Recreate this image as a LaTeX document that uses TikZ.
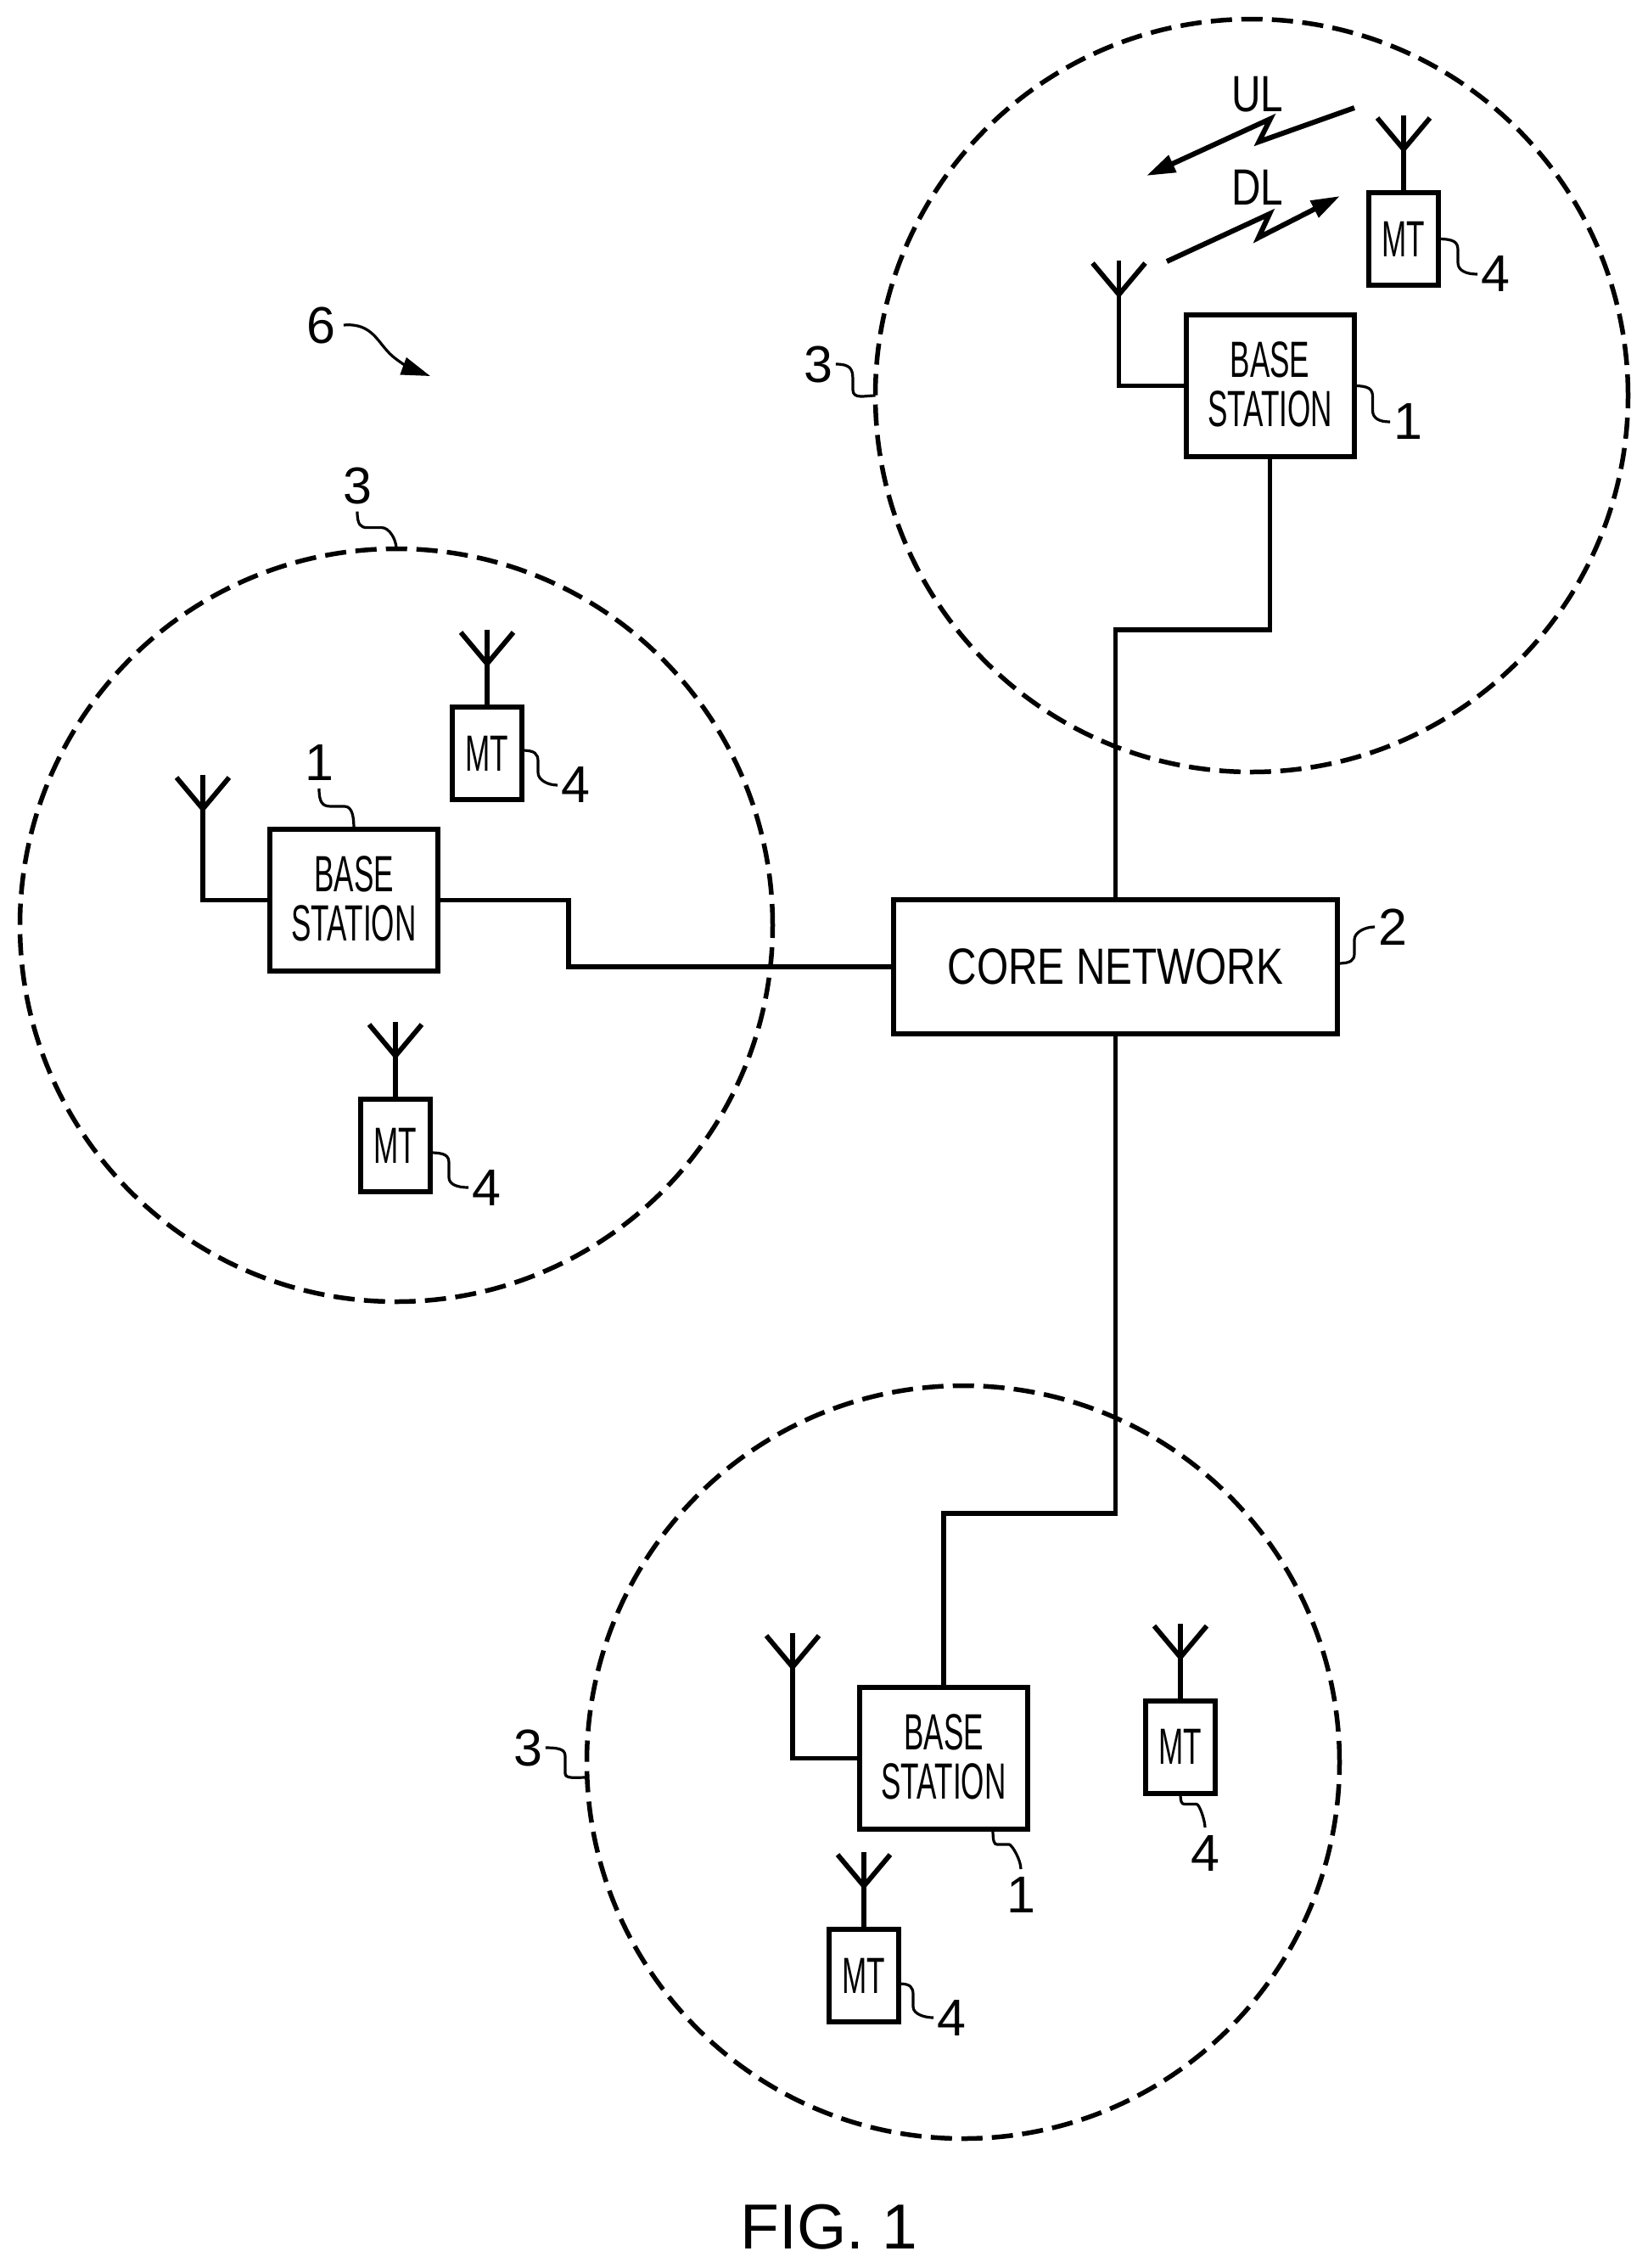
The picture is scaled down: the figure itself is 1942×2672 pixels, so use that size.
\documentclass[tikz,border=0pt]{standalone}
\usepackage{fontspec}
\setmainfont{Liberation Sans}
\newfontfamily\nara[FakeStretch=0.585]{Liberation Sans}
\newfontfamily\narb[FakeStretch=0.796]{Liberation Sans}
\usetikzlibrary{arrows.meta}
\tikzset{
  box/.style={draw=black,line width=6pt,inner sep=0pt,outer sep=0pt,align=center},
  bsbox/.style={box,minimum width=198pt,minimum height=167pt,text depth=3pt,font=\nara\fontsize{60}{58}\selectfont},
  mtbox/.style={box,minimum width=82pt,minimum height=109pt,font=\nara\fontsize{60}{60}\selectfont},
  corebox/.style={box,minimum width=523pt,minimum height=158pt,font=\narb\fontsize{60}{60}\selectfont},
  cell/.style={circle,draw=black,line width=5.5pt,dash pattern=on 25pt off 11pt,minimum size=887pt,inner sep=0pt,outer sep=0pt},
  wire/.style={line width=5.8pt,draw=black,miter limit=10},
  lead/.style={line width=3.2pt,draw=black},
  lab/.style={inner xsep=4pt,inner ysep=9pt,outer sep=0pt,font=\fontsize{61}{61}\selectfont},
  linklab/.style={inner sep=0pt,font=\narb\fontsize{60}{60}\selectfont},
  figlab/.style={inner sep=0pt,font=\fontsize{75}{75}\selectfont},
  radio/.style={line width=6pt,draw=black,miter limit=12,-{Triangle[length=34pt,width=21pt]}}
}
\newcommand\hsq[5]{\draw[lead] #1 .. controls +({.8*#2},0) and +(0,{-.7*#3}) .. ++(#2,#3) -- ++(0,#4) .. controls +(0,{.7*#3}) and +({-.6*#2},0) .. #5;}
\newcommand\vsq[5]{\draw[lead] #1 .. controls +(0,{.8*#3}) and +({-.7*#2},0) .. ++(#2,#3) -- ++(#4,0) .. controls +({.7*#2},0) and +(0,{-.6*#3}) .. #5;}
\newcommand\mtant[1]{%
  \draw[wire] (#1.north) -- ++(0,-91);
  \path (#1.north) ++(0,-51) coordinate (#1v);
  \draw[wire] ([shift={(-31,-37)}]#1v) -- (#1v) -- ([shift={(31,-37)}]#1v);}
\newcommand\bsant[1]{%
  \draw[wire] (#1.west) -- ++(-79,0) -- ++(0,-147.5);
  \path (#1.west) ++(-79,-107.5) coordinate (#1v);
  \draw[wire] ([shift={(-31,-37)}]#1v) -- (#1v) -- ([shift={(31,-37)}]#1v);}
\begin{document}
\begin{tikzpicture}[x=1pt,y=-1pt]
\fill[white] (0,0) rectangle (1942,2672);
\useasboundingbox (0,0) rectangle (1942,2672);
% cells
\node[cell] (c1) at (1475,466) {};
\node[cell] (c2) at (467,1090) {};
\node[cell] (c3) at (1135,2076) {};
% boxes
\node[corebox] (core) at (1314.5,1139) {CORE NETWORK};
\node[bsbox] (bs1) at (1496.5,454.5) {BASE\\STATION};
\node[bsbox] (bs2) at (417,1060.5) {BASE\\STATION};
\node[bsbox] (bs3) at (1112,2071.5) {BASE\\STATION};
\node[mtbox] (mt1) at (1654,281.5) {MT};
\node[mtbox] (mt2) at (574,887.5) {MT};
\node[mtbox] (mt3) at (466,1349.5) {MT};
\node[mtbox] (mt4) at (1391,2058) {MT};
\node[mtbox] (mt5) at (1018,2327.5) {MT};
% antennas
\mtant{mt1}\mtant{mt2}\mtant{mt3}\mtant{mt4}\mtant{mt5}
\bsant{bs1}\bsant{bs2}\bsant{bs3}
% backhaul
\coordinate (j1) at (1314.5,742);
\coordinate (j2) at (670,1139);
\coordinate (j3) at (1314.5,1783);
\draw[wire] (bs1.south) |- (j1) -- (core.north);
\draw[wire] (bs2.east) -| (j2) -- (core.west);
\draw[wire] (core.south) -- (j3) -| (bs3.north);
% reference numerals
\node[lab] (l1a) at (1659,497) {1};
\node[lab] (l1b) at (376,899) {1};
\node[lab] (l1c) at (1203,2232) {1};
\node[lab] (l2) at (1641,1092) {2};
\node[lab] (l3a) at (964,429) {3};
\node[lab] (l3b) at (421,572) {3};
\node[lab] (l3c) at (622,2059) {3};
\node[lab] (l4a) at (1762,323) {4};
\node[lab] (l4b) at (678,925) {4};
\node[lab] (l4c) at (573,1399) {4};
\node[lab] (l4d) at (1420,2183) {4};
\node[lab] (l4e) at (1121,2377) {4};
\node[lab] (l6) at (378,383) {6};
% leaders
\hsq{(bs1.east)}{22}{13}{16}{(l1a.west)}
\hsq{(mt1.east)}{23}{13}{15}{(l4a.west)}
\hsq{([yshift=3.5pt]mt2.east)}{19}{13}{13}{(l4b.west)}
\hsq{([yshift=-8.5pt]mt3.east)}{22}{12}{17}{(l4c.west)}
\hsq{([yshift=-9.5pt]mt5.east)}{17}{13}{14}{(l4e.west)}
\hsq{([yshift=4pt]core.east)}{20}{-12}{-16}{(l2.west)}
\hsq{(l3a.east)}{20}{17}{13}{(c1.west)}
\hsq{(l3c.east)}{23}{10}{20}{([yshift=-18pt]c3.west)}
\vsq{([xshift=58pt]bs3.south)}{5}{18}{14}{(l1c.north)}
\vsq{(mt4.south)}{5}{13}{14}{(l4d.north)}
\vsq{(l3b.south)}{12}{19}{17}{(c2.north)}
\vsq{(l1b.south)}{14}{21}{16}{(bs2.north)}
% system arrow
\coordinate (t6) at (507,443);
\draw[lead,-{Triangle[length=34pt,width=21pt]}] ([xshift=6pt]l6.east) .. controls (440,380) and (445,405) .. (463,420) .. controls (475,430) and (488,436) .. (t6);
% radio links
\coordinate (uls) at (1596,127);
\coordinate (ult) at (1351,207);
\coordinate (dls) at (1375,308);
\coordinate (dlt) at (1579,231);
\draw[radio] (uls) -- (1483.5,167) -- (1497,140) -- (ult);
\draw[radio] (dls) -- (1496,252) -- (1483,280) -- (dlt);
\node[linklab] (ul) at (1482,111) {UL};
\node[linklab] (dl) at (1482,221) {DL};
\node[figlab] (fig) at (977,2624) {FIG. 1};
\end{tikzpicture}
\end{document}
